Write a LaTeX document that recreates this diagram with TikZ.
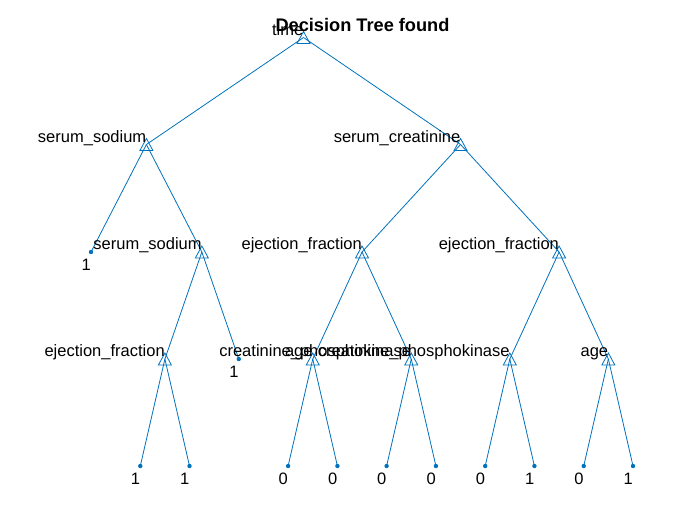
\documentclass[tikz,border=0pt]{standalone}
\usepackage{fontspec}
\setmainfont{Liberation Sans}
\definecolor{mblue}{RGB}{0,114,189}
\tikzset{
  edge/.style={mblue, line width=0.8pt},
  mk/.style={mblue, line width=0.8pt, line join=miter},
  lab/.style={anchor=base east, inner sep=0pt, yshift=2.5pt, font=\fontsize{16.5}{19}\selectfont},
  val/.style={anchor=base east, inner sep=0pt, yshift=-18pt, font=\fontsize{16.5}{19}\selectfont}
}
\begin{document}
\begin{tikzpicture}[x=1pt, y=-1pt]
    \useasboundingbox (0,0) rectangle (700,525);

    % split nodes
    \coordinate (T) at (303.5,37.5);
    \coordinate (SS) at (146.4,144.5);
    \coordinate (SC) at (460.55,144.5);
    \coordinate (SS2) at (201.85,252);
    \coordinate (EF) at (362,252);
    \coordinate (EF2) at (559.1,252);
    \coordinate (EF3) at (164.9,359);
    \coordinate (AG) at (312.75,359);
    \coordinate (CP) at (411.25,359);
    \coordinate (CP2) at (509.8,359);
    \coordinate (AG2) at (608.35,359);

    % leaves
    \coordinate (L1) at (91,252);
    \coordinate (L2) at (140.3,466);
    \coordinate (L3) at (189.5,466);
    \coordinate (L4) at (238.8,359);
    \coordinate (L5) at (288.1,466);
    \coordinate (L6) at (337.4,466);
    \coordinate (L7) at (386.6,466);
    \coordinate (L8) at (435.9,466);
    \coordinate (L9) at (485.2,466);
    \coordinate (L10) at (534.4,466);
    \coordinate (L11) at (583.7,466);
    \coordinate (L12) at (633,466);

    \foreach \a/\b in {T/SS, T/SC, SS/L1, SS/SS2, SS2/EF3, SS2/L4, EF3/L2, EF3/L3,
        SC/EF, SC/EF2, EF/AG, EF/CP, EF2/CP2, EF2/AG2, AG/L5, AG/L6, CP/L7, CP/L8,
        CP2/L9, CP2/L10, AG2/L11, AG2/L12}
        \draw[edge] (\a)--(\b);

    \foreach \n in {T, SS, SC, SS2, EF, EF2, EF3, AG, CP, CP2, AG2}
        \draw[mk] (\n) ++(0,-6) -- ++(6.5,12) -- ++(-13,0) -- cycle;
    \foreach \n in {L1, L2, L3, L4, L5, L6, L7, L8, L9, L10, L11, L12}
        \fill[mblue] (\n) circle (2.2pt);

    \node[lab] (Tl) at (T) {time};
    \node[lab] (SSl) at (SS) {serum\_sodium};
    \node[lab] (SCl) at (SC) {serum\_creatinine};
    \node[lab] (SS2l) at (SS2) {serum\_sodium};
    \node[lab] (EFl) at (EF) {ejection\_fraction};
    \node[lab] (EF2l) at (EF2) {ejection\_fraction};
    \node[lab] (EF3l) at (EF3) {ejection\_fraction};
    \node[lab] (AGl) at (AG) {age};
    \node[lab] (CPl) at (CP) {creatinine\_phosphokinase};
    \node[lab] (CP2l) at (CP2) {creatinine\_phosphokinase};
    \node[lab] (AG2l) at (AG2) {age};

    \foreach \n/\v in {L1/1, L2/1, L3/1, L4/1, L5/0, L6/0, L7/0, L8/0, L9/0, L10/1, L11/0, L12/1}
        \node[val] (\n v) at (\n) {\v};

    \node[anchor=base, inner sep=0pt, font=\fontsize{18.2}{21}\selectfont\bfseries] (title) at (362.5,31) {Decision Tree found};
\end{tikzpicture}
\end{document}
